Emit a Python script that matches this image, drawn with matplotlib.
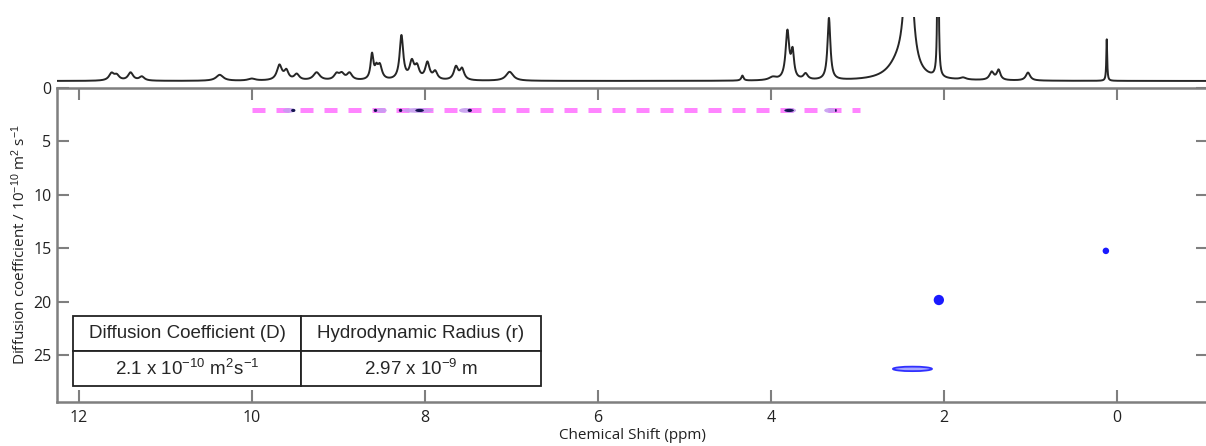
import numpy as np
import matplotlib
matplotlib.use("Agg")
import matplotlib.pyplot as plt
from matplotlib.patches import Ellipse

plt.rcParams['font.family'] = ['Open Sans', 'DejaVu Sans']
plt.rcParams['mathtext.fontset'] = 'custom'
plt.rcParams['mathtext.rm'] = 'Liberation Sans'
plt.rcParams['mathtext.it'] = 'Liberation Sans:italic'

# ---- 1D spectrum peak list (ppm, height, half width) ----
peak_ppm = [11.62, 11.56, 11.40, 11.27, 10.37, 10.00, 9.68, 9.60, 9.48, 9.25,
            9.02, 8.96, 8.87, 8.61, 8.56, 8.52, 8.27, 8.15, 8.09, 7.97,
            7.88, 7.64, 7.57, 7.02, 4.33, 3.98, 3.81, 3.75, 3.60, 3.33,
            2.41, 2.52, 2.07, 1.78, 1.45, 1.37, 1.03, 0.12]
peak_height = [7, 5, 8, 4, 6, 2, 15, 9, 6, 8,
               6, 6, 7, 25, 9, 14, 44, 17, 12, 17,
               8, 13, 11, 9, 5, 3, 48, 26, 6, 62,
               200, 15, 300, 2, 8, 10, 8, 42]
peak_hwhm = [0.035, 0.035, 0.035, 0.035, 0.05, 0.05, 0.035, 0.03, 0.035, 0.045,
             0.035, 0.035, 0.035, 0.02, 0.02, 0.03, 0.025, 0.03, 0.03, 0.03,
             0.03, 0.03, 0.03, 0.05, 0.015, 0.05, 0.025, 0.02, 0.03, 0.02,
             0.04, 0.15, 0.006, 0.04, 0.03, 0.025, 0.03, 0.006]

# ---- DOSY cross peaks ----
D_line = 2.1            # 10^-10 m2/s
line_ppm = [10.0, 2.97]
blob_ppm = [9.57, 8.50, 8.08, 7.53, 3.78, 3.32]
blob_w = [0.14, 0.12, 0.35, 0.15, 0.14, 0.13]
dark_ppm = [9.52, 8.57, 8.28, 8.06, 7.48, 3.79, 3.25]
dark_w = [0.05, 0.04, 0.04, 0.10, 0.05, 0.11, 0.02]
blue_ppm = [2.06, 0.13]
blue_D = [19.85, 15.25]
blue_size = [55, 22]
wide_ppm = [2.59, 2.14]
wide_D = 26.3

table_cols = ['Diffusion Coefficient (D)', 'Hydrodynamic Radius (r)']
table_vals = [r'2.1 x 10$^{-10}$ m$^{2}$s$^{-1}$', r'2.97 x 10$^{-9}$ m']

W, H = 1206, 446
fig = plt.figure(figsize=(W / 100, H / 100), dpi=100)

x0, x1 = 57, 1208
ax = fig.add_axes([x0 / W, (H - 402) / H, (x1 - x0) / W, (402 - 88) / H])
axs = fig.add_axes([x0 / W, (H - 88) / H, (x1 - x0) / W, (88 - 17) / H], sharex=ax)

grey = '#7f7f7f'

# spectrum
ppm = np.linspace(12.4, -1.2, 8000)
spec = np.zeros_like(ppm)
for c, h, g in zip(peak_ppm, peak_height, peak_hwhm):
    spec += h / (1 + ((ppm - c) / g) ** 2)
axs.plot(ppm, spec, color='#262626', lw=1.4)
axs.set_ylim(-7, 64)
axs.axis('off')

# 2D part
ax.plot(line_ppm, [D_line, D_line], color='#ff85ff', lw=3.6,
        ls=(0, (2.6, 2.2)), solid_capstyle='butt', dash_capstyle='butt', zorder=2)
for c, w in zip(blob_ppm, blob_w):
    ax.add_patch(Ellipse((c, D_line), w, 0.45, facecolor='#c79cf0',
                         edgecolor='none', alpha=0.9, zorder=3))
for c, w in zip(dark_ppm, dark_w):
    ax.add_patch(Ellipse((c, D_line), w, 0.3, facecolor='#141450',
                         edgecolor='none', zorder=4))
ax.scatter(blue_ppm, blue_D, s=blue_size, color='#1a1aff', edgecolor='none', zorder=4)
ax.add_patch(Ellipse(((wide_ppm[0] + wide_ppm[1]) / 2, wide_D),
                     wide_ppm[0] - wide_ppm[1], 0.42,
                     facecolor='#a8a8ff', edgecolor='#3030ff', lw=1.3, zorder=4))

ax.set_xlim(12.25, -1.05)
ax.set_ylim(29.4, 0)
ax.set_xticks([12, 10, 8, 6, 4, 2, 0])
ax.set_yticks([0, 5, 10, 15, 20, 25])
ax.tick_params(direction='in', length=8.5, width=1.5, color=grey,
               top=True, right=True, labelsize=11.5, labelcolor='#222222')
ax.tick_params(axis='x', pad=6)
ax.tick_params(axis='y', pad=4)
for s in ax.spines.values():
    s.set_color(grey)
    s.set_linewidth(1.8)

ax.set_xlabel('Chemical Shift (ppm)', fontsize=11, color='#222222', labelpad=1)
ax.set_ylabel(r'Diffusion coefficient / 10$^{-10}$ m$^{2}$ s$^{-1}$', fontsize=11,
              color='#222222', labelpad=3)

tbl = ax.table(cellText=[table_vals], colLabels=table_cols, cellLoc='center',
               colWidths=[0.487, 0.513],
               bbox=[(73 - x0) / (x1 - x0), (402 - 386) / 314, (541 - 73) / (x1 - x0), 70 / 314])
tbl.auto_set_font_size(False)
for (r, c), cell in tbl.get_celld().items():
    cell.set_edgecolor('#222222')
    cell.set_linewidth(1.3)
    cell.set_facecolor('white')
    cell.get_text().set_fontsize(13.5)
    cell.get_text().set_family(['Liberation Sans', 'DejaVu Sans'])
    cell.get_text().set_color('#262626')

fig.savefig('out.png', dpi=100)
